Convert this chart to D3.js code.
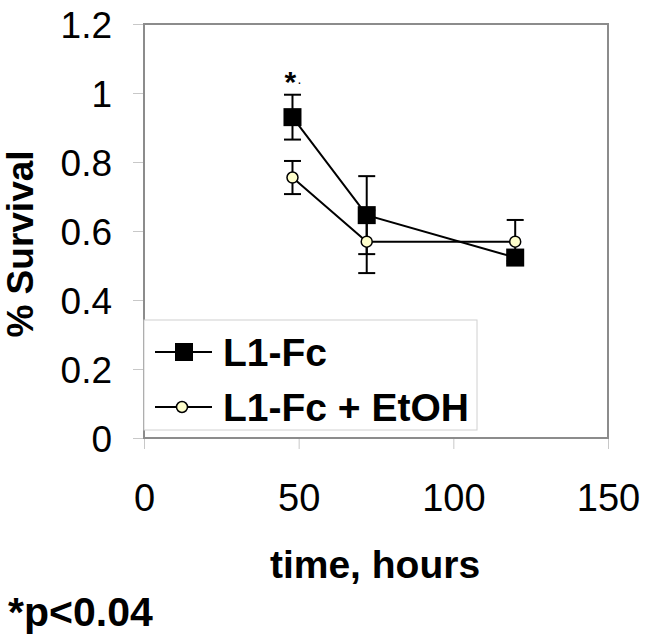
<!DOCTYPE html>
<html>
<head>
<meta charset="utf-8">
<script src="https://cdn.jsdelivr.net/npm/d3@7"></script>
<style>
  html, body { margin: 0; padding: 0; background: #fff; }
  svg { display: block; font-family: "Liberation Sans", Arial, sans-serif; }
</style>
</head>
<body>
<svg id="chart" width="647" height="637"></svg>
<script>
// ---- data ----
const hours = [48, 72, 120];
const l1fc = [0.93, 0.646, 0.523];
const l1fcErr = [0.065, 0.113, 0.01];
const l1fcEtoh = [0.755, 0.569, 0.569];
const l1fcEtohErr = [0.048, 0.091, 0.063];
const xTicks = [0, 50, 100, 150];
const yTicks = [0, 0.2, 0.4, 0.6, 0.8, 1, 1.2];
const seriesNames = ["L1-Fc", "L1-Fc + EtOH"];

const svg = d3.select("#chart");
const x = d3.scaleLinear().domain([0, 150]).range([144, 608]);
const y = d3.scaleLinear().domain([0, 1.2]).range([438, 24]);

// ticks (light gray, outside)
const yAxis = d3.axisLeft(y).tickValues(yTicks).tickSize(11).tickFormat(d => d3.format("~g")(d));
const gy = svg.append("g").attr("transform", `translate(${x(0)},0)`).call(yAxis);
gy.select(".domain").remove();
gy.selectAll(".tick line").attr("stroke", "#c8c8c8").attr("stroke-width", 1);
gy.selectAll(".tick text").attr("x", -32).attr("dy", "0.36em")
  .attr("font-size", 37).attr("fill", "#000")
  .attr("font-family", "Liberation Sans, Arial, sans-serif");

const xAxis = d3.axisBottom(x).tickValues(xTicks).tickSize(11);
const gx = svg.append("g").attr("transform", `translate(0,${y(0)})`).call(xAxis);
gx.select(".domain").remove();
gx.selectAll(".tick line").attr("stroke", "#c8c8c8").attr("stroke-width", 1);
gx.selectAll(".tick text").attr("y", 73).attr("dy", 0)
  .attr("font-size", 38).attr("fill", "#000")
  .attr("font-family", "Liberation Sans, Arial, sans-serif");

// plot border
svg.append("rect")
  .attr("x", x(0)).attr("y", y(1.2))
  .attr("width", x(150) - x(0)).attr("height", y(0) - y(1.2))
  .attr("fill", "none").attr("stroke", "#8c8c8c").attr("stroke-width", 2);

// series lines
const line = d3.line().x((d, i) => x(hours[i])).y(d => y(d));
svg.append("path").datum(l1fc).attr("d", line)
  .attr("fill", "none").attr("stroke", "#000").attr("stroke-width", 2);
svg.append("path").datum(l1fcEtoh).attr("d", line)
  .attr("fill", "none").attr("stroke", "#000").attr("stroke-width", 2);

// error bars
function errBars(vals, errs) {
  const g = svg.append("g").attr("stroke", "#000").attr("stroke-width", 2);
  vals.forEach((v, i) => {
    const cx = x(hours[i]);
    g.append("line").attr("x1", cx).attr("x2", cx).attr("y1", y(v - errs[i])).attr("y2", y(v + errs[i]));
    [v - errs[i], v + errs[i]].forEach(e => {
      g.append("line").attr("x1", cx - 8.5).attr("x2", cx + 8.5).attr("y1", y(e)).attr("y2", y(e));
    });
  });
}
errBars(l1fc, l1fcErr);
errBars(l1fcEtoh, l1fcEtohErr);

// markers
svg.append("g").selectAll("rect").data(l1fc).join("rect")
  .attr("x", (d, i) => x(hours[i]) - 9).attr("y", d => y(d) - 9)
  .attr("width", 18).attr("height", 18).attr("fill", "#000");
svg.append("g").selectAll("circle").data(l1fcEtoh).join("circle")
  .attr("cx", (d, i) => x(hours[i])).attr("cy", d => y(d)).attr("r", 5.5)
  .attr("fill", "#ffffcc").attr("stroke", "#000").attr("stroke-width", 1.5);

// significance mark
svg.append("text").attr("x", x(48) - 8).attr("y", 92)
  .attr("font-size", 30).attr("font-weight", "bold").text("*");
svg.append("text").attr("x", x(48) + 5).attr("y", 84)
  .attr("font-size", 14).text(".");

// legend
const lg = svg.append("g");
lg.append("rect").attr("x", 144).attr("y", 320).attr("width", 333).attr("height", 110)
  .attr("fill", "#fff").attr("stroke", "#d0d0d0").attr("stroke-width", 1);
const rows = [352, 407];
rows.forEach((ry, i) => {
  lg.append("line").attr("x1", 155).attr("x2", 212).attr("y1", ry).attr("y2", ry)
    .attr("stroke", "#000").attr("stroke-width", 2);
  if (i === 0) {
    lg.append("rect").attr("x", 175).attr("y", ry - 9).attr("width", 18).attr("height", 18).attr("fill", "#000");
  } else {
    lg.append("circle").attr("cx", 182).attr("cy", ry).attr("r", 5.5)
      .attr("fill", "#ffffcc").attr("stroke", "#000").attr("stroke-width", 1.5);
  }
  lg.append("text").attr("x", 223).attr("y", ry).attr("dy", "0.36em")
    .attr("font-size", 39).attr("font-weight", "bold").text(seriesNames[i]);
});

// axis titles
svg.append("text").attr("x", 375).attr("y", 578).attr("text-anchor", "middle")
  .attr("font-size", 39).attr("font-weight", "bold").text("time, hours");
svg.append("text").attr("transform", "translate(33,244) rotate(-90)").attr("text-anchor", "middle")
  .attr("font-size", 37).attr("font-weight", "bold").text("% Survival");

// footnote
svg.append("text").attr("x", 8).attr("y", 626)
  .attr("font-size", 41).attr("font-weight", "bold").text("*p<0.04");
</script>
</body>
</html>
